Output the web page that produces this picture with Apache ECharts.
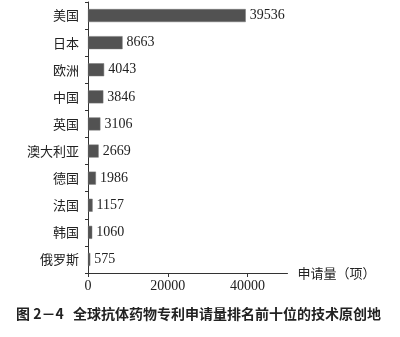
<!DOCTYPE html>
<html><head><meta charset="utf-8">
<script src="https://cdn.jsdelivr.net/npm/echarts@6/dist/echarts.min.js"></script>
<style>html,body{margin:0;padding:0;background:#fff}#c{width:400px;height:337px}</style>
</head><body><div id="c"></div>
<script>
const categories = ['美国','日本','欧洲','中国','英国','澳大利亚','德国','法国','韩国','俄罗斯'];
const values = [39536,8663,4043,3846,3106,2669,1986,1157,1060,575];
const axisName = '申请量（项）';
const figNo = '图 2－4';
const caption = '全球抗体药物专利申请量排名前十位的技术原创地';

const chart = echarts.init(document.getElementById('c'), null, {renderer:'canvas'});
chart.setOption({
  animation:false,
  grid:{left:88, top:2, width:199.5, height:271, containLabel:false},
  graphic:[
    {type:'text', left:16, top:307, style:{text:figNo, font:'bold 14px "Noto Sans CJK SC"', fill:'#222'}},
    {type:'text', left:73, top:307, style:{text:caption, font:'bold 14px "Noto Sans CJK SC"', fill:'#222'}}
  ],
  xAxis:{type:'value', min:0, max:50000, interval:20000,
    name:axisName, nameLocation:'end', nameGap:10,
    nameTextStyle:{fontFamily:'"Noto Sans CJK SC"', fontSize:13, color:'#222', verticalAlign:'middle'},
    axisLine:{show:true, lineStyle:{color:'#333', width:1}},
    axisTick:{show:true, length:4, lineStyle:{color:'#333'}},
    axisLabel:{showMaxLabel:false, formatter:v=>String(v), fontFamily:'"Liberation Serif"', fontSize:14, color:'#222', margin:6},
    splitLine:{show:false}},
  yAxis:{type:'category', data:categories, inverse:true,
    axisLine:{show:true, lineStyle:{color:'#333', width:1}},
    axisTick:{show:true, length:3, lineStyle:{color:'#333'}},
    axisLabel:{fontFamily:'"Noto Sans CJK SC"', fontSize:13, color:'#222', margin:9}},
  series:[{type:'bar', data:values, barWidth:13,
    itemStyle:{color:'#525252', borderColor:'#777', borderWidth:0.5},
    label:{show:true, position:'right', distance:4, fontFamily:'"Liberation Serif"', fontSize:14, color:'#222'}}]
});
</script></body></html>
